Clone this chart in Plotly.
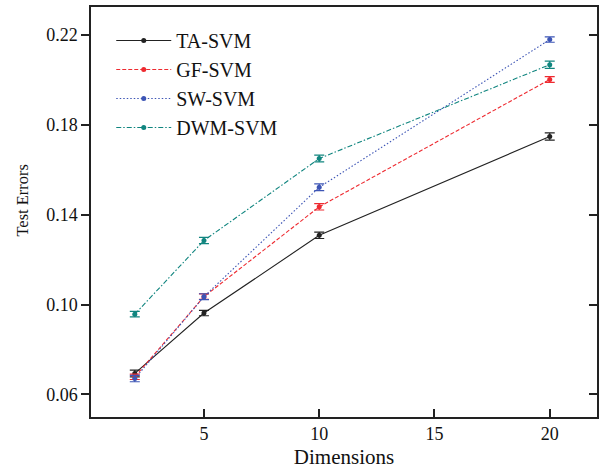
import plotly.graph_objects as go

dims = [2, 5, 10, 20]
ta_svm = [0.0693, 0.0962, 0.1308, 0.1748]
gf_svm = [0.0678, 0.1035, 0.1435, 0.2002]
sw_svm = [0.0670, 0.1035, 0.1522, 0.2180]
dwm_svm = [0.0957, 0.1285, 0.1650, 0.2068]
ta_err = [0.0015, 0.0012, 0.0014, 0.0016]
gf_err = [0.0012, 0.0012, 0.0014, 0.0013]
sw_err = [0.0014, 0.0013, 0.0015, 0.0012]
dwm_err = [0.0012, 0.0014, 0.0015, 0.0016]

series = [
    ("TA-SVM", ta_svm, ta_err, "#222222", "solid"),
    ("GF-SVM", gf_svm, gf_err, "#ee2a30", "4px,2px"),
    ("SW-SVM", sw_svm, sw_err, "#3d55b5", "1.5px,2px"),
    ("DWM-SVM", dwm_svm, dwm_err, "#10857f", "5px,2px,1.5px,2px"),
]

fig = go.Figure()
for name, ys, es, col, dash in series:
    fig.add_trace(go.Scatter(
        x=dims, y=ys, name=name, mode="lines+markers",
        line=dict(color=col, width=1.1, dash=dash),
        marker=dict(color=col, size=5),
        error_y=dict(type="data", array=es, visible=True, color=col, thickness=1.2, width=5),
    ))

font = "Liberation Serif, Times New Roman, serif"
fig.update_layout(
    width=608, height=470,
    margin=dict(l=91, r=11, t=7, b=53),
    plot_bgcolor="white", paper_bgcolor="white",
    font=dict(family=font, size=17, color="#111"),
    showlegend=True,
    legend=dict(x=0.04, y=0.966, xanchor="left", yanchor="top",
                bgcolor="rgba(0,0,0,0)", font=dict(size=20), itemwidth=55,
                tracegroupgap=0),
    xaxis=dict(range=[0.1, 22.05], tickvals=[5, 10, 15, 20], ticks="inside",
               ticklen=8, tickwidth=1.5, tickcolor="#222", showgrid=False,
               zeroline=False, showline=True, linecolor="#222", linewidth=1.5,
               mirror=True, automargin=False,
               title=dict(text="Dimensions", standoff=6, font=dict(size=21)),
               tickfont=dict(size=18)),
    yaxis=dict(range=[0.0499, 0.2325], tickvals=[0.06, 0.10, 0.14, 0.18, 0.22],
               tickformat=".2f", ticks="outside", ticklen=8, tickwidth=1.5,
               tickcolor="#222", showgrid=False, zeroline=False, showline=True,
               linecolor="#222", linewidth=1.5, mirror=True, automargin=False,
               tickfont=dict(size=18)),
    yaxis2=dict(range=[0.0499, 0.2325], tickvals=[0.06, 0.10, 0.14, 0.18, 0.22],
                overlaying="y", side="right", ticks="inside", ticklen=8,
                tickwidth=1.5, tickcolor="#222", showticklabels=False,
                showgrid=False, zeroline=False, showline=False, automargin=False),
)
fig.add_annotation(text="Test Errors", textangle=-90, xref="paper", yref="paper",
                   x=-0.1354, y=0.529, xanchor="center", yanchor="middle",
                   showarrow=False, font=dict(size=16.5, family=font, color="#111"))
fig.add_trace(go.Scatter(x=[None], y=[None], yaxis="y2", showlegend=False, hoverinfo="skip"))
fig.write_html("out.html", config={"displayModeBar": False},
               post_script="document.body.style.margin='0px';")
